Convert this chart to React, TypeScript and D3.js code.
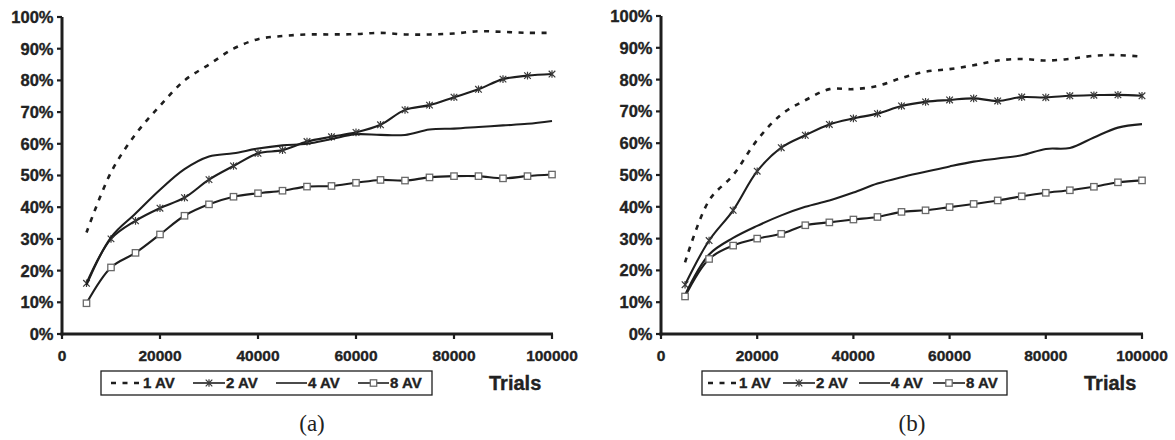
import React from 'react';
import * as d3 from 'd3';

const TRIALS = [5000, 10000, 15000, 20000, 25000, 30000, 35000, 40000, 45000, 50000, 55000, 60000, 65000, 70000, 75000, 80000, 85000, 90000, 95000, 100000];
const SERIES_NAMES = ['1 AV', '2 AV', '4 AV', '8 AV'];
const Y_TICKS = [0, 0.1, 0.2, 0.3, 0.4, 0.5, 0.6, 0.7, 0.8, 0.9, 1.0];
const X_TICKS = [0, 20000, 40000, 60000, 80000, 100000];

// Panel (a)
const A_1AV = [32, 51, 63, 72, 80, 85, 90, 93, 94, 94.5, 94.5, 94.6, 95, 94.5, 94.5, 94.8, 95.5, 95.3, 95, 95];
const A_2AV = [16, 30, 35.7, 39.7, 43, 48.7, 53, 57, 58, 60.7, 62.2, 63.6, 66, 70.7, 72.2, 74.7, 77.2, 80.4, 81.5, 82];
const A_4AV = [15.5, 30.5, 38, 45.5, 52, 56, 57, 58.5, 59.5, 60, 61.5, 63, 62.8, 62.8, 64.5, 64.8, 65.3, 65.8, 66.3, 67.2];
const A_8AV = [9.7, 21, 25.6, 31.4, 37.3, 40.9, 43.3, 44.4, 45.2, 46.5, 46.7, 47.7, 48.6, 48.4, 49.4, 49.8, 49.8, 49.1, 49.8, 50.3];

// Panel (b)
const B_1AV = [22.5, 42, 50, 61, 69, 73.5, 77, 77, 78, 80.5, 82.5, 83.3, 84.5, 86, 86.5, 86, 86.5, 87.5, 87.7, 87.2];
const B_2AV = [15.5, 29.4, 38.9, 51.2, 58.6, 62.5, 65.9, 67.8, 69.3, 71.7, 73, 73.6, 74.1, 73.3, 74.5, 74.4, 74.9, 75.1, 75.2, 74.9];
const B_4AV = [12.3, 25, 30.2, 34, 37.3, 40, 42, 44.5, 47.3, 49.3, 51, 52.7, 54.2, 55.2, 56.2, 58.2, 58.5, 61.8, 64.9, 66];
const B_8AV = [11.8, 23.6, 27.8, 30, 31.5, 34.2, 35.1, 36, 36.8, 38.4, 38.9, 39.9, 40.9, 42, 43.3, 44.4, 45.2, 46.3, 47.7, 48.3];

const FONT = '"Liberation Sans", Arial, Helvetica, sans-serif';
const INK = '#1e1e1e';

type LegendItem = { s0: number; s1: number; t: number };
type Legend = { top: number; bottom: number; left: number; right: number; trials: number; items: LegendItem[] };

type PanelProps = {
  series: number[][];
  x0: number; x1: number; yTop: number; yBottom: number;
  legend: Legend;
  caption: string; captionX: number;
};

const asterisk = (s: number) => `M${-s},${-s}L${s},${s}M${-s},${s}L${s},${-s}M0,${-s - 0.5}L0,${s + 0.5}`;

function Marker({ kind, x, y }: { kind: number; x: number; y: number }) {
  if (kind === 1) {
    return <path d={asterisk(3.3)} transform={`translate(${x},${y})`} stroke="#3a3a3a" strokeWidth={1.2} fill="none" />;
  }
  if (kind === 3) {
    return <rect x={x - 3.2} y={y - 3.2} width={6.4} height={6.4} fill="#fff" stroke="#6a6a6a" strokeWidth={1.3} />;
  }
  return null;
}

const boldText = { fontFamily: FONT, fontWeight: 'bold' as const, fill: '#222', stroke: '#222', strokeWidth: 0.35 };

function LegendBox({ legend }: { legend: Legend }) {
  const cy = (legend.top + legend.bottom) / 2;
  return (
    <g>
      <rect x={legend.left} y={legend.top} width={legend.right - legend.left} height={legend.bottom - legend.top}
        fill="#fff" stroke={INK} strokeWidth={1.3} />
      {legend.items.map((it, i) => (
        <g key={i}>
          <line x1={it.s0} x2={it.s1} y1={cy} y2={cy} stroke={INK} strokeWidth={i === 0 ? 2.6 : 1.6}
            strokeDasharray={i === 0 ? '5,6.5' : undefined} />
          <Marker kind={i} x={(it.s0 + it.s1) / 2} y={cy} />
          <text x={it.t} y={cy} dy="0.36em" fontSize={15} {...boldText}>{SERIES_NAMES[i]}</text>
        </g>
      ))}
    </g>
  );
}

function Panel({ series, x0, x1, yTop, yBottom, legend, caption, captionX }: PanelProps) {
  const x = d3.scaleLinear().domain([0, 100000]).range([x0, x1]);
  const y = d3.scaleLinear().domain([0, 1]).range([yBottom, yTop]);
  const line = d3.line<[number, number]>()
    .x(d => x(d[0]))
    .y(d => y(d[1] / 100))
    .curve(d3.curveCatmullRom.alpha(0.5));

  const lineStyle = (i: number) =>
    i === 0 ? { stroke: INK, strokeWidth: 2.6, strokeDasharray: '5,6.5' } : { stroke: INK, strokeWidth: 2.1 };

  const legY = (legend.top + legend.bottom) / 2;
  return (
    <g>
      <line x1={x0} x2={x0} y1={yTop} y2={yBottom + 1.5} stroke={INK} strokeWidth={3} />
      <line x1={x0 - 1.5} x2={x1 + 1} y1={yBottom} y2={yBottom} stroke={INK} strokeWidth={3} />
      {Y_TICKS.map(t => (
        <g key={'y' + t}>
          <line x1={x0 - 5} x2={x0} y1={y(t)} y2={y(t)} stroke={INK} strokeWidth={2.2} />
          <text x={x0 - 8.5} y={y(t)} dy="0.36em" textAnchor="end" fontSize={16.5} {...boldText}>
            {d3.format('.0%')(t)}
          </text>
        </g>
      ))}
      {X_TICKS.map(t => (
        <g key={'x' + t}>
          <line x1={x(t)} x2={x(t)} y1={yBottom} y2={yBottom + 5} stroke={INK} strokeWidth={2.2} />
          <text x={x(t)} y={yBottom + 26.5} textAnchor="middle" fontSize={15.5} {...boldText}>
            {String(t)}
          </text>
        </g>
      ))}
      {series.map((vals, i) => {
        const pts = TRIALS.map((t, k) => [t, vals[k]] as [number, number]);
        return (
          <g key={'s' + i}>
            <path d={line(pts) || ''} fill="none" {...lineStyle(i)} strokeLinejoin="round" />
            {pts.map((p, k) => <Marker key={k} kind={i} x={x(p[0])} y={y(p[1] / 100)} />)}
          </g>
        );
      })}
      <LegendBox legend={legend} />
      <text x={legend.trials} y={legY + 7} fontSize={20} {...boldText}>Trials</text>
      <text x={captionX} y={431} textAnchor="middle" fontFamily='"Liberation Serif", "Times New Roman", serif'
        fontSize={23} fill="#222">{caption}</text>
    </g>
  );
}

export default function App() {
  const legA: Legend = {
    top: 371, bottom: 395, left: 101, right: 432, trials: 489,
    items: [{ s0: 111, s1: 142, t: 143 }, { s0: 193, s1: 225, t: 226 }, { s0: 276, s1: 307, t: 308 }, { s0: 358, s1: 389, t: 390 }],
  };
  const legB: Legend = {
    top: 371, bottom: 395, left: 702, right: 1007, trials: 1084,
    items: [{ s0: 708, s1: 738, t: 739 }, { s0: 783, s1: 815, t: 816 }, { s0: 859, s1: 890, t: 891 }, { s0: 933, s1: 965, t: 966 }],
  };
  return (
    <svg width={1175} height={440} style={{ position: 'absolute', left: 0, top: 0, background: '#fff' }}>
      <rect width={1175} height={440} fill="#fff" />
      <Panel series={[A_1AV, A_2AV, A_4AV, A_8AV]} x0={62} x1={552} yTop={17} yBottom={334}
        legend={legA} caption="(a)" captionX={312} />
      <Panel series={[B_1AV, B_2AV, B_4AV, B_8AV]} x0={661} x1={1142} yTop={16} yBottom={334}
        legend={legB} caption="(b)" captionX={912} />
    </svg>
  );
}
